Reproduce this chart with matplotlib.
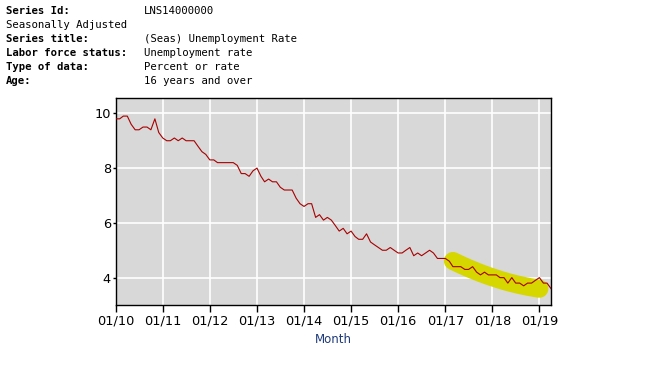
import numpy as np
import pandas as pd
import matplotlib
matplotlib.use("Agg")
import matplotlib.pyplot as plt
import matplotlib.dates as mdates

# ---- data ----
start_month = "2010-01-01"
rates = [
    9.8, 9.8, 9.9, 9.9, 9.6, 9.4, 9.4, 9.5, 9.5, 9.4, 9.8, 9.3,   # 2010
    9.1, 9.0, 9.0, 9.1, 9.0, 9.1, 9.0, 9.0, 9.0, 8.8, 8.6, 8.5,   # 2011
    8.3, 8.3, 8.2, 8.2, 8.2, 8.2, 8.2, 8.1, 7.8, 7.8, 7.7, 7.9,   # 2012
    8.0, 7.7, 7.5, 7.6, 7.5, 7.5, 7.3, 7.2, 7.2, 7.2, 6.9, 6.7,   # 2013
    6.6, 6.7, 6.7, 6.2, 6.3, 6.1, 6.2, 6.1, 5.9, 5.7, 5.8, 5.6,   # 2014
    5.7, 5.5, 5.4, 5.4, 5.6, 5.3, 5.2, 5.1, 5.0, 5.0, 5.1, 5.0,   # 2015
    4.9, 4.9, 5.0, 5.1, 4.8, 4.9, 4.8, 4.9, 5.0, 4.9, 4.7, 4.7,   # 2016
    4.7, 4.6, 4.4, 4.4, 4.4, 4.3, 4.3, 4.4, 4.2, 4.1, 4.2, 4.1,   # 2017
    4.1, 4.1, 4.0, 4.0, 3.8, 4.0, 3.8, 3.8, 3.7, 3.8, 3.8, 3.9,   # 2018
    4.0, 3.8, 3.8, 3.6,                                           # 2019
]
tick_years = list(range(2010, 2020))
highlight_start = "2017-03-01"
highlight_end = "2019-01-01"

header_labels = ["Series Id:", "Seasonally Adjusted", "Series title:",
                 "Labor force status:", "Type of data:", "Age:"]
header_values = ["LNS14000000", "", "(Seas) Unemployment Rate",
                 "Unemployment rate", "Percent or rate", "16 years and over"]

# ---- figure ----
dates = pd.date_range(start_month, periods=len(rates), freq="MS")
s = pd.Series(rates, index=dates)

fig = plt.figure(figsize=(6.48, 3.81), dpi=100)
fig.patch.set_facecolor("white")

mono = ["DejaVu Sans Mono"]
y0 = 1 - 11.5 / 381
dy = 14 / 381
for i, (lab, val) in enumerate(zip(header_labels, header_values)):
    bold = "bold" if lab.endswith(":") else "normal"
    fig.text(6 / 648, y0 - i * dy, lab, family=mono, fontsize=7.7,
             fontweight=bold, va="center", ha="left", color="black")
    if val:
        fig.text(144 / 648, y0 - i * dy, val, family=mono, fontsize=7.7,
                 va="center", ha="left", color="black")

ax = fig.add_axes([115.7 / 648, 1 - 305 / 381, (551 - 115.7) / 648, (305 - 98.3) / 381])
ax.set_facecolor("#d8d8d8")

# highlight band derived from a smooth trend of the highlighted data
hs = s[highlight_start:highlight_end]
t = np.arange(len(hs))
coef = np.polyfit(t, hs.values, 2)
trend = np.polyval(coef, t) + np.linspace(0.12, -0.23, len(hs))
ax.plot(hs.index, trend, color="#d6d600", lw=13, solid_capstyle="round",
        zorder=2)

ax.plot(s.index, s.values, color="#a80000", lw=0.8, zorder=3)

ax.set_xlim(dates[0], dates[-1])
ax.set_ylim(3.0, 10.55)
ax.set_yticks([4, 6, 8, 10])
ax.set_xticks([pd.Timestamp(f"{y}-01-01") for y in tick_years])
ax.xaxis.set_major_formatter(mdates.DateFormatter("%m/%y"))
ax.grid(True, color="white", lw=1.2, zorder=1)
ax.set_axisbelow(True)

ax.tick_params(axis="x", direction="out", length=5, width=1, labelsize=9.3,
               pad=2, colors="black")
ax.tick_params(axis="y", direction="out", length=2.5, width=1, labelsize=9.3,
               pad=1, colors="black")
for sp in ax.spines.values():
    sp.set_color("black")
    sp.set_linewidth(1)

ax.set_xlabel("Month", color="#1f3a7a", fontsize=8.5, labelpad=4)

fig.savefig("out.png", dpi=100)
